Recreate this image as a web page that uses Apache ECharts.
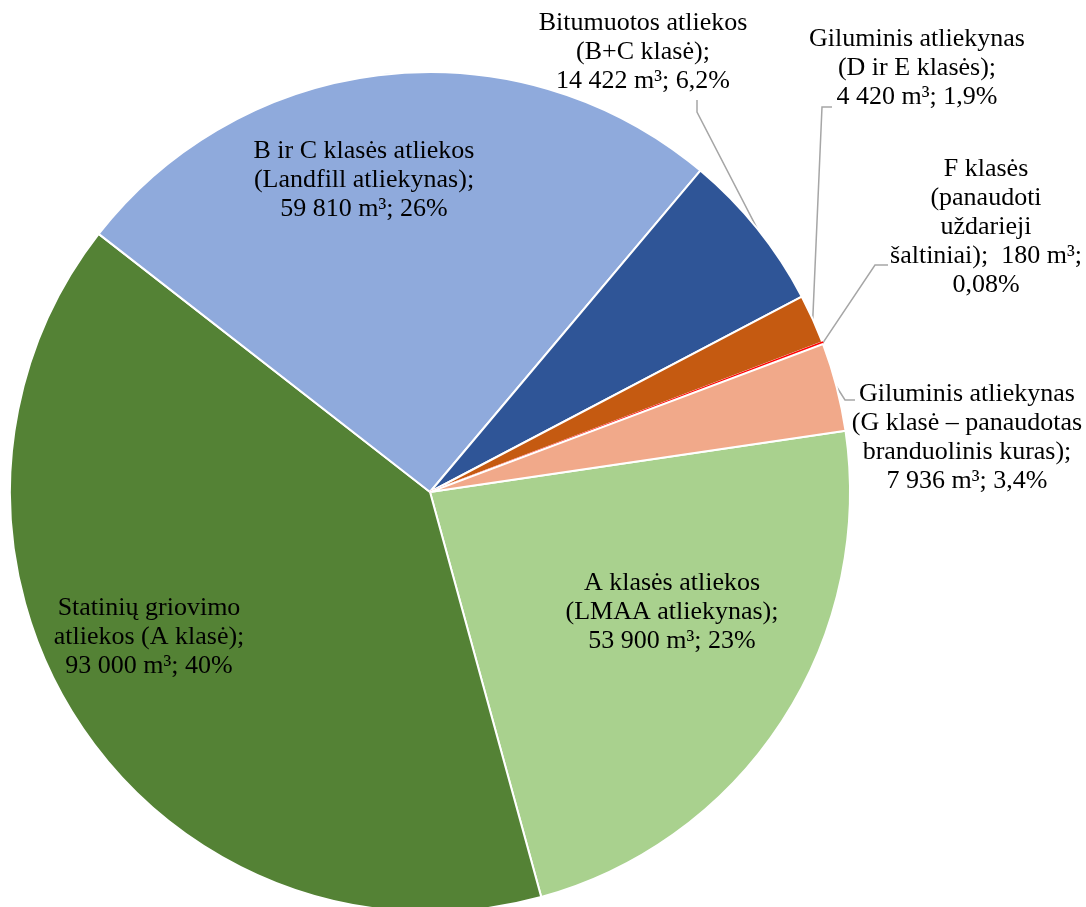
<!DOCTYPE html>
<html>
<head>
<meta charset="utf-8">
<script src="https://cdn.jsdelivr.net/npm/echarts@6/dist/echarts.min.js"></script>
<style>
html,body{margin:0;padding:0;background:#fff;}
#chart{width:1086px;height:907px;}
</style>
</head>
<body>
<div id="chart"></div>
<script>
// ---- data ----
const categories = [
  'A klasės atliekos (LMAA atliekynas)',
  'Statinių griovimo atliekos (A klasė)',
  'B ir C klasės atliekos (Landfill atliekynas)',
  'Bitumuotos atliekos (B+C klasė)',
  'Giluminis atliekynas (D ir E klasės)',
  'F klasės (panaudoti uždarieji šaltiniai)',
  'Giluminis atliekynas (G klasė – panaudotas branduolinis kuras)'
];
const values = [53900, 93000, 59810, 14422, 4420, 180, 7936];
const pctText = ['23%', '40%', '26%', '6,2%', '1,9%', '0,08%', '3,4%'];
const labelTemplates = [
  'A klasės atliekos\n(LMAA atliekynas);\n{v} m³; {p}',
  'Statinių griovimo\natliekos (A klasė);\n{v} m³; {p}',
  'B ir C klasės atliekos\n(Landfill atliekynas);\n{v} m³; {p}',
  'Bitumuotos atliekos\n(B+C klasė);\n{v} m³; {p}',
  'Giluminis atliekynas\n(D ir E klasės);\n{v} m³; {p}',
  'F klasės\n(panaudoti\nuždarieji\nšaltiniai);  {v} m³;\n{p}',
  'Giluminis atliekynas\n(G klasė – panaudotas\nbranduolinis kuras);\n{v} m³; {p}'
];
const colors = ['#A9D18E', '#548235', '#8FAADC', '#2F5597', '#C55A11', '#FF0000', '#F1A98A'];

// ---- layout (styles / positions) ----
const labelPos = [
  [672, 612], [149, 637], [364, 180], [643, 52], [917, 68], [986, 227], [967, 438]
];
const linePts = [
  null, null, null,
  [[697, 112], [697, 100]],
  [[822, 107], [832, 107]],
  [[875, 265], [888, 265]],
  [[845, 400], [855, 400]]
];

function fmt(v) {
  return String(v).replace(/\B(?=(\d{3})+(?!\d))/g, ' ');
}

const chart = echarts.init(document.getElementById('chart'), null, {renderer: 'canvas'});
const data = categories.map((c, i) => {
  const outside = i >= 3;
  const item = {
    name: c,
    value: values[i],
    itemStyle: {color: colors[i]},
    label: {position: outside ? 'outside' : 'inside'},
    labelLine: {show: outside}
  };
  if (i === 5) {
    item.itemStyle.borderColor = colors[i];
    item.itemStyle.borderWidth = 1.5;
  }
  return item;
});

chart.setOption({
  animation: false,
  backgroundColor: '#ffffff',
  series: [{
    type: 'pie',
    center: [430, 492],
    radius: 420,
    startAngle: 8.4,
    clockwise: true,
    avoidLabelOverlap: false,
    minAngle: 0,
    data: data,
    itemStyle: {borderColor: '#ffffff', borderWidth: 2},
    label: {
      show: true,
      color: '#000000',
      fontFamily: "'Liberation Serif', 'Times New Roman', serif",
      fontSize: 26,
      lineHeight: 29,
      align: 'center',
      formatter: function (p) {
        return labelTemplates[p.dataIndex].replace('{v}', fmt(values[p.dataIndex])).replace('{p}', pctText[p.dataIndex]);
      }
    },
    labelLine: {
      lineStyle: {color: '#A6A6A6', width: 1.5},
      length: 10, length2: 10, smooth: false
    },
    labelLayout: function (params) {
      const i = params.dataIndex;
      const res = {x: labelPos[i][0], y: labelPos[i][1], align: 'center', verticalAlign: 'middle'};
      if (linePts[i] && params.labelLinePoints) {
        res.labelLinePoints = [params.labelLinePoints[0], linePts[i][0], linePts[i][1]];
      }
      return res;
    }
  }]
});
</script>
</body>
</html>
